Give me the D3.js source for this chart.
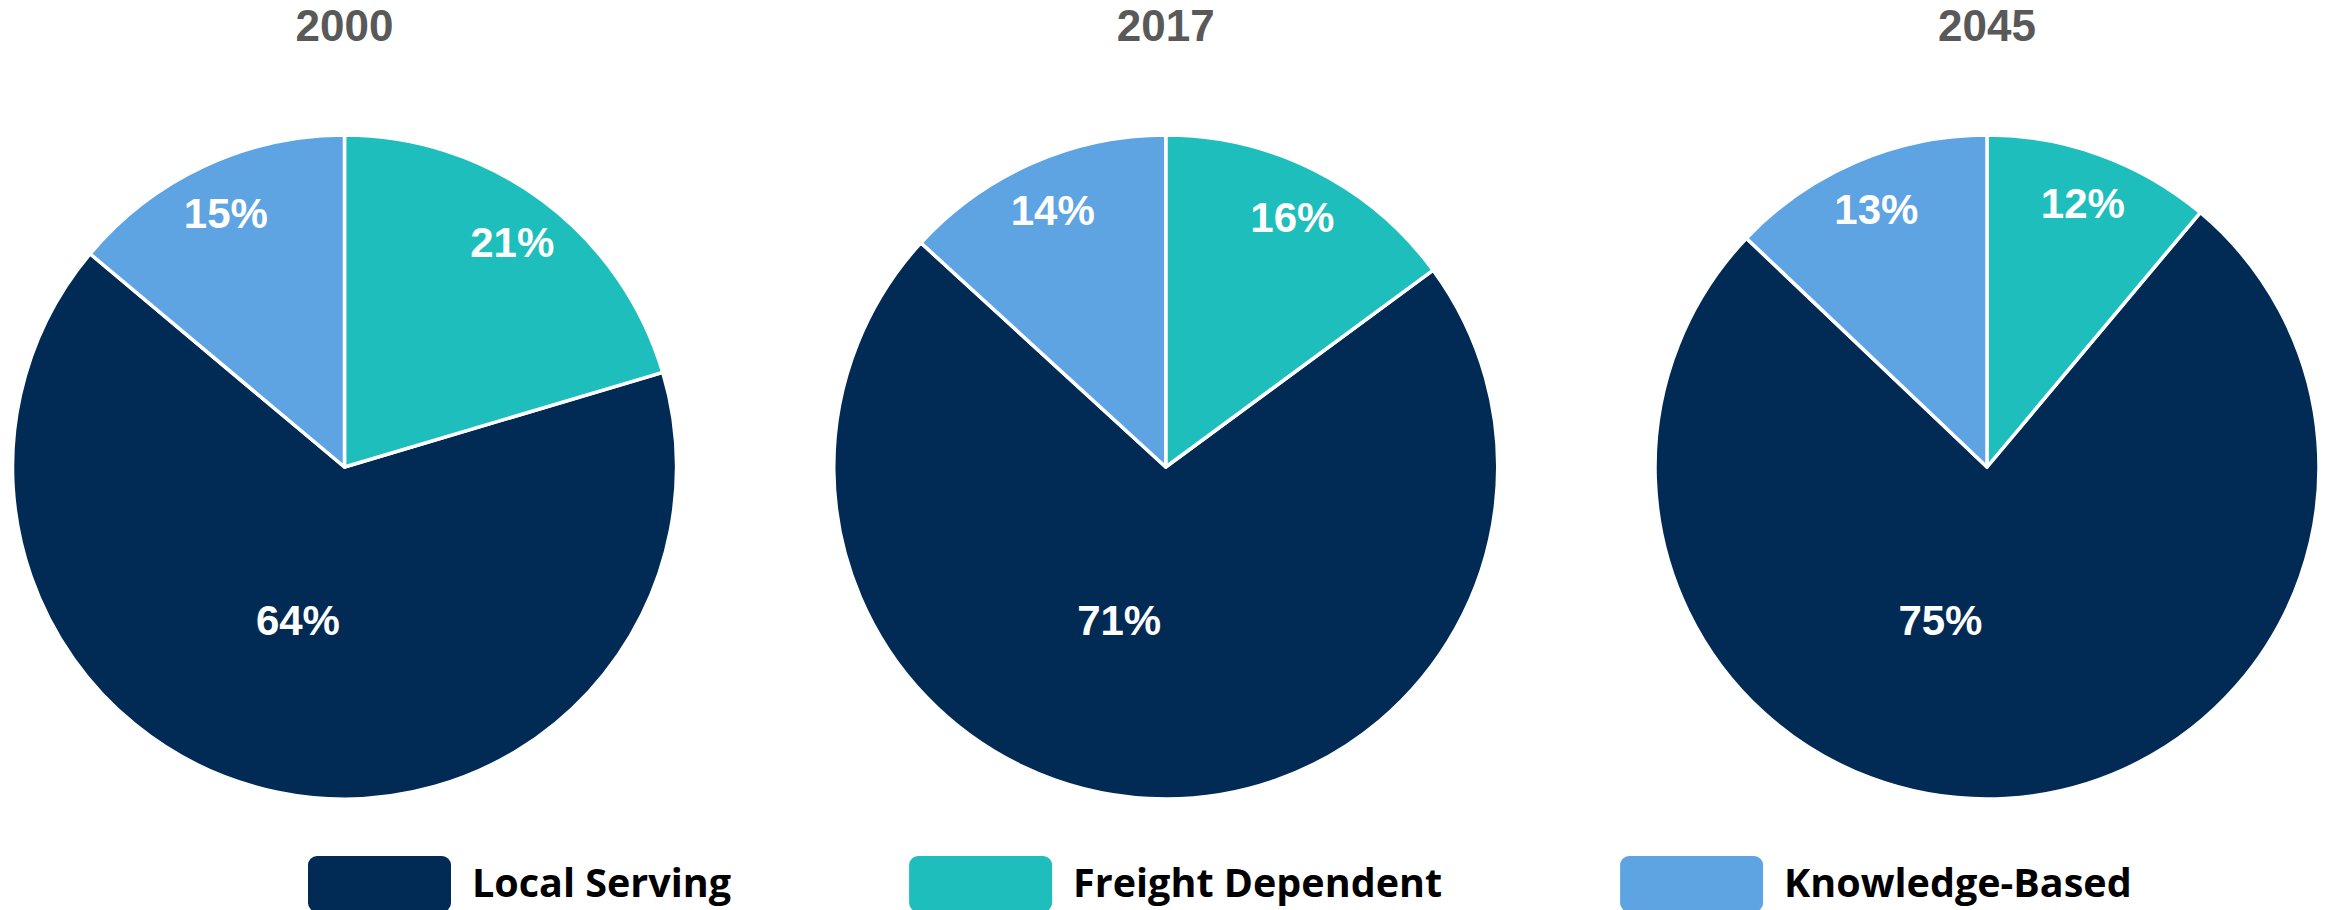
<!DOCTYPE html>
<html>
<head>
<meta charset="utf-8">
<script src="https://cdn.jsdelivr.net/npm/d3@7"></script>
<style>
  body { margin: 0; background: #fff; }
  svg { display: block; }
  .title { font-family: "Liberation Sans", Arial, sans-serif; font-weight: bold; font-size: 44px; fill: #595959; }
  .lbl { font-family: "Liberation Sans", Arial, sans-serif; font-weight: bold; font-size: 42px; fill: #fff; }
  .legend text { font-family: "Open Sans", sans-serif; font-weight: 700; font-size: 39.5px; fill: #000; }
</style>
</head>
<body>
<div id="chart"></div>
<script>
const years = ["2000", "2017", "2045"]
const categories = ["Local Serving", "Freight Dependent", "Knowledge-Based"]
const colors = ["#012a55", "#1dbebb", "#5ea3e2"]
// slice sizes as drawn (share of jobs), in category order
const share2000 = [65.7, 20.4, 13.9]
const share2017 = [71.9, 14.9, 13.2]
const share2045 = [76.0, 11.1, 12.9]
// printed labels
const label2000 = ["64%", "21%", "15%"]
const label2017 = ["71%", "16%", "14%"]
const label2045 = ["75%", "12%", "13%"]
// pie goes clockwise from 12 o'clock: freight, local, knowledge
const pieOrder = ["Freight Dependent", "Local Serving", "Knowledge-Based"]

const shares = [share2000, share2017, share2045],
      labels = [label2000, label2017, label2045]

const W = 2331, H = 910,
      R = 332,
      cy = 467

const svg = d3.select("#chart").append("svg")
  .attr("width", W)
  .attr("height", H)

const x = d3.scalePoint()
  .domain(years)
  .range([344.5, 1987])

const color = d3.scaleOrdinal()
  .domain(categories)
  .range(colors)

const pie = d3.pie()
  .value(d => d.value)
  .sort((a, b) => pieOrder.indexOf(a.cat) - pieOrder.indexOf(b.cat))

const arc = d3.arc().innerRadius(0).outerRadius(R)
const labelArc = d3.arc().innerRadius(R * 0.845).outerRadius(R * 0.845)

// excel put the big slice label down-left of centre
const mainLabelAngle = 197 * Math.PI / 180,
      mainLabelR = R * 0.48

years.forEach((yr, i) => {
  const rows = categories.map((c, j) => ({cat: c, value: shares[i][j], label: labels[i][j]}))
  const arcs = pie(rows)
  const biggest = d3.max(rows, d => d.value)

  svg.append("text")
    .attr("class", "title")
    .attr("x", x(yr))
    .attr("y", 26)
    .attr("dy", "0.35em")
    .style("text-anchor", "middle")
    .text(yr)

  const g = svg.append("g")
    .attr("transform", `translate(${x(yr)}, ${cy})`)

  g.selectAll("path")
    .data(arcs)
    .join("path")
    .attr("d", arc)
    .attr("fill", d => color(d.data.cat))
    .attr("stroke", "#fff")
    .attr("stroke-width", 3.5)
    .attr("stroke-linejoin", "round")

  g.selectAll("text")
    .data(arcs)
    .join("text")
    .attr("class", "lbl")
    .attr("transform", d => {
      if (d.data.value === biggest) {
        return `translate(${mainLabelR * Math.sin(mainLabelAngle)}, ${-mainLabelR * Math.cos(mainLabelAngle)})`
      }
      return `translate(${labelArc.centroid(d)})`
    })
    .attr("dy", "0.36em")
    .style("text-anchor", "middle")
    .text(d => d.data.label)
})

// legend
const legend = svg.append("g").attr("class", "legend")
let lx = 308
categories.forEach((c, i) => {
  const item = legend.append("g")
  item.append("rect")
    .attr("x", lx)
    .attr("y", 856)
    .attr("width", 143)
    .attr("height", 56)
    .attr("rx", 9)
    .attr("fill", color(c))
  const t = item.append("text")
    .attr("x", lx + 164)
    .attr("y", 897)
    .text(c)
  lx += 164 + t.node().getComputedTextLength() + 178
})
</script>
</body>
</html>
